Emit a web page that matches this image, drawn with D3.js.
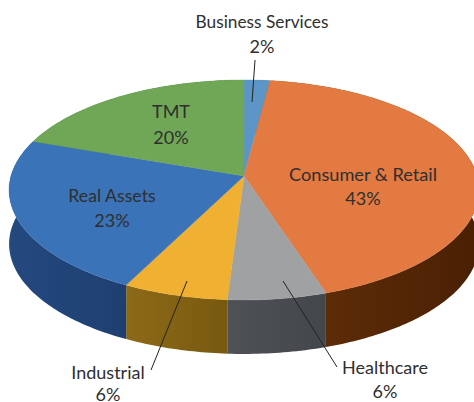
<!DOCTYPE html>
<html><head><meta charset="utf-8">
<script src="https://cdn.jsdelivr.net/npm/d3@7"></script>
<style>html,body{margin:0;padding:0;background:#fff;overflow:hidden}svg{display:block}text{font-family:Lato,sans-serif;fill:#2f2f2f;text-anchor:middle}</style>
</head><body><svg id="c" width="474" height="402"></svg>
<script>
const categories=["Business Services","Consumer & Retail","Healthcare","Industrial","Real Assets","TMT"];
const values=[2,43,6,6.4,23,19.6];
const topColors=["#5b96c6","#e27a42","#a0a1a2","#f0b032","#3a73b8","#6fa757"];
const sideLeft=["#3c6a90","#64300a","#4e5256","#8d6a18","#24497f","#4a7038"];
const sideRight=["#2c5070","#4a2003","#43474b","#77590f","#1e3f70","#3a5a2c"];
const labelX=[262,363,385,108,112,171];
const nameY=[28,181,374,379,202,118];
const shareY=[53,205,398,401,227,144];
const nameSize=[17.3,18.2,18,18,17.7,18];
const leaders=[[[255,60],[252,102]],null,[[337,367],[283,281]],[[151,370],[187,281]],null,null];
const W=474,H=402,cx=244,cy=176,A=233,B=108.2,k=0.127,depth=54;
const svg=d3.select("#c");
const x=d3.scaleLinear().domain([-1,1]).range([cx-A,cx+A]);
const y=d3.scaleLinear().domain([-1,1]).range([cy-B,cy+B]);
function proj(t){const u=Math.sin(t),v=-Math.cos(t),d=1-k*v;return [x(u/d),y(v/d)];}
const pie=d3.pie().sort(null).value(d=>d)(values);
const defs=svg.append("defs");
const line=d3.line();
function arcPts(a){const n=Math.max(4,Math.ceil((a.endAngle-a.startAngle)*60));
  return d3.range(n+1).map(i=>proj(a.startAngle+(a.endAngle-a.startAngle)*i/n));}
pie.forEach((a,i)=>{
  const pts=arcPts(a);
  const xs=pts.map(p=>p[0]);
  const g=defs.append("linearGradient").attr("id","s"+i).attr("gradientUnits","userSpaceOnUse")
    .attr("x1",d3.min(xs)).attr("x2",d3.max(xs)).attr("y1",0).attr("y2",0);
  g.append("stop").attr("offset",0).attr("stop-color",sideLeft[i]);
  g.append("stop").attr("offset",1).attr("stop-color",sideRight[i]);
  a.pts=pts;
});
svg.append("g").selectAll("path").data(pie).join("path")
  .attr("d",a=>line(a.pts.concat(a.pts.slice().reverse().map(p=>[p[0],p[1]+depth])))+"Z")
  .attr("fill",(a,i)=>`url(#s${i})`);
svg.append("g").selectAll("path").data(pie).join("path")
  .attr("d",a=>line([[cx,cy]].concat(a.pts))+"Z")
  .attr("fill",(a,i)=>topColors[i])
  .attr("stroke",(a,i)=>topColors[i]).attr("stroke-width",0.4);
svg.append("g").selectAll("line").data(leaders.filter(Boolean)).join("line")
  .attr("x1",d=>d[0][0]).attr("y1",d=>d[0][1]).attr("x2",d=>d[1][0]).attr("y2",d=>d[1][1])
  .attr("stroke","#222").attr("stroke-width",1);
const t=svg.append("g").selectAll("g").data(categories).join("g");
t.append("text").attr("x",(d,i)=>labelX[i]).attr("y",(d,i)=>nameY[i]).attr("font-size",(d,i)=>nameSize[i]).text(d=>d);
t.append("text").attr("x",(d,i)=>labelX[i]).attr("y",(d,i)=>shareY[i]).attr("font-size",18).text((d,i)=>Math.round(values[i])+"%");
</script></body></html>
